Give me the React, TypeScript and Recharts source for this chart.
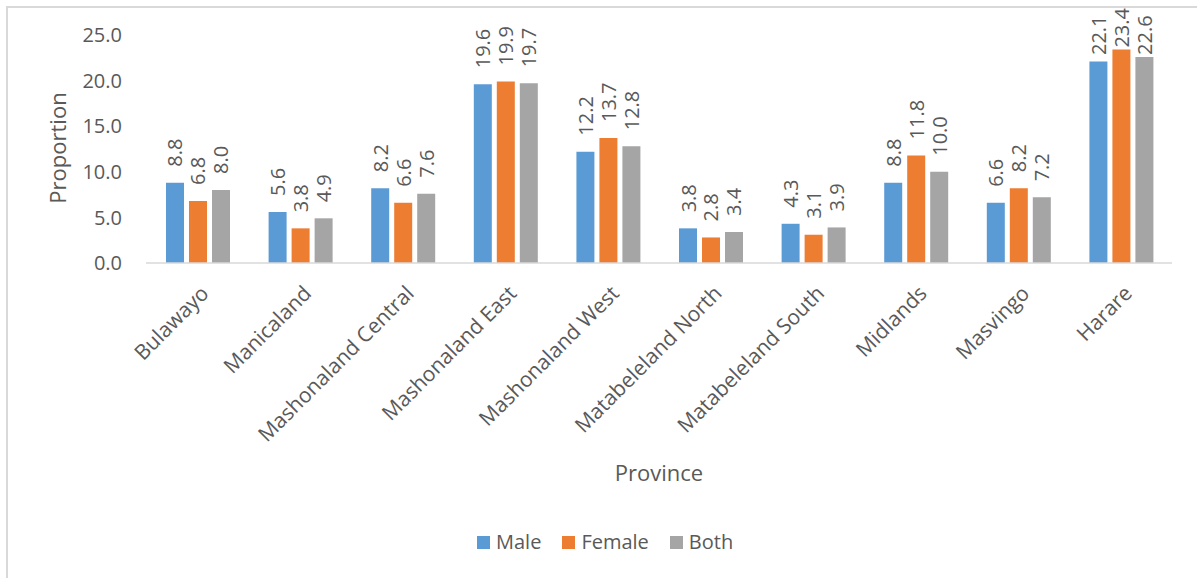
import React from "react";
import {
  BarChart,
  Bar,
  XAxis,
  YAxis,
  Legend,
  LabelList,
  Label,
} from "recharts";

// provinces and proportions
const provinces = [
  "Bulawayo",
  "Manicaland",
  "Mashonaland Central",
  "Mashonaland East",
  "Mashonaland West",
  "Matabeleland North",
  "Matabeleland South",
  "Midlands",
  "Masvingo",
  "Harare",
];
const male = [8.8, 5.6, 8.2, 19.6, 12.2, 3.8, 4.3, 8.8, 6.6, 22.1];
const female = [6.8, 3.8, 6.6, 19.9, 13.7, 2.8, 3.1, 11.8, 8.2, 23.4];
const both = [8.0, 4.9, 7.6, 19.7, 12.8, 3.4, 3.9, 10.0, 7.2, 22.6];
const yTicks = [0, 5, 10, 15, 20, 25];

const series = [
  { key: "male", name: "Male", color: "#5B9BD5" },
  { key: "female", name: "Female", color: "#ED7D31" },
  { key: "both", name: "Both", color: "#A5A5A5" },
];

const data = provinces.map((p, i) => ({
  province: p,
  male: male[i],
  female: female[i],
  both: both[i],
}));

const TEXT = "#595959";
const FONT = "'Open Sans', sans-serif";

// vertical value label above the bar, pushed down when it would leave the chart
const ValueLabel = (props: any) => {
  const { x, y, width, value } = props;
  const cx = x + width / 2;
  let y0 = y - 16;
  if (y0 - 40 < 14) y0 = Math.min(55, y - 2);
  return (
    <text
      x={cx}
      y={y0}
      transform={`rotate(-90, ${cx}, ${y0})`}
      textAnchor="start"
      dominantBaseline="central"
      fill={TEXT}
      fontSize={20}
      fontFamily={FONT}
    >
      {Number(value).toFixed(1)}
    </text>
  );
};

const CategoryTick = (props: any) => {
  const { x, y, payload } = props;
  return (
    <g transform={`translate(${x + 2},${y + 21})`}>
      <text
        transform="rotate(-45)"
        textAnchor="end"
        dy="0.72em"
        fill={TEXT}
        fontSize={21}
        fontFamily={FONT}
      >
        {payload.value}
      </text>
    </g>
  );
};

const LegendContent = () => (
  <div style={{ display: "flex", alignItems: "center", fontFamily: FONT }}>
    {series.map((s) => (
      <div
        key={s.key}
        style={{ display: "flex", alignItems: "center", marginRight: 21 }}
      >
        <span
          style={{
            width: 13,
            height: 13,
            background: s.color,
            display: "inline-block",
            marginRight: 6,
          }}
        />
        <span style={{ fontSize: 20, color: TEXT, lineHeight: "24px" }}>
          {s.name}
        </span>
      </div>
    ))}
  </div>
);

export default function App() {
  return (
    <div
      style={{
        position: "absolute",
        left: 0,
        top: 0,
        width: 1197,
        height: 578,
        overflow: "hidden",
        background: "#fff",
      }}
    >
      <div
        style={{
          position: "absolute",
          left: 6,
          top: 6,
          width: 1300,
          height: 700,
          border: "2px solid #d9d9d9",
        }}
      />
      <div style={{ position: "absolute", left: 0, top: 0 }}>
        <BarChart
          width={1197}
          height={578}
          data={data}
          margin={{ top: 35, right: 25, left: 0, bottom: 0 }}
          barGap={5}
          barCategoryGap="19.5%"
          style={{ fontFamily: FONT }}
        >
          <XAxis
            dataKey="province"
            height={315}
            interval={0}
            tickLine={false}
            tickSize={0}
            tickMargin={0}
            axisLine={{ stroke: "#d9d9d9", strokeWidth: 1.5 }}
            tick={<CategoryTick />}
          >
            <Label
              content={() => (
                <text
                  x={659}
                  y={472}
                  textAnchor="middle"
                  dominantBaseline="central"
                  fill={TEXT}
                  fontSize={22}
                  fontFamily={FONT}
                >
                  Province
                </text>
              )}
            />
          </XAxis>
          <YAxis
            width={146}
            domain={[0, 25]}
            ticks={yTicks}
            interval={0}
            axisLine={false}
            tickLine={false}
            tickSize={0}
            tickMargin={24}
            tickFormatter={(v: number) => v.toFixed(1)}
            tick={{ fill: TEXT, fontSize: 20, fontFamily: FONT }}
          >
            <Label
              content={() => (
                <text
                  x={57}
                  y={148}
                  transform="rotate(-90, 57, 148)"
                  textAnchor="middle"
                  dominantBaseline="central"
                  fill={TEXT}
                  fontSize={22}
                  fontFamily={FONT}
                >
                  Proportion
                </text>
              )}
            />
          </YAxis>
          <Legend
            layout="horizontal"
            verticalAlign="middle"
            align="center"
            wrapperStyle={{ left: 477, top: 530, width: "auto" }}
            content={<LegendContent />}
          />
          {series.map((s) => (
            <Bar
              key={s.key}
              dataKey={s.key}
              name={s.name}
              fill={s.color}
              isAnimationActive={false}
            >
              <LabelList dataKey={s.key} content={<ValueLabel />} />
            </Bar>
          ))}
        </BarChart>
      </div>
    </div>
  );
}
